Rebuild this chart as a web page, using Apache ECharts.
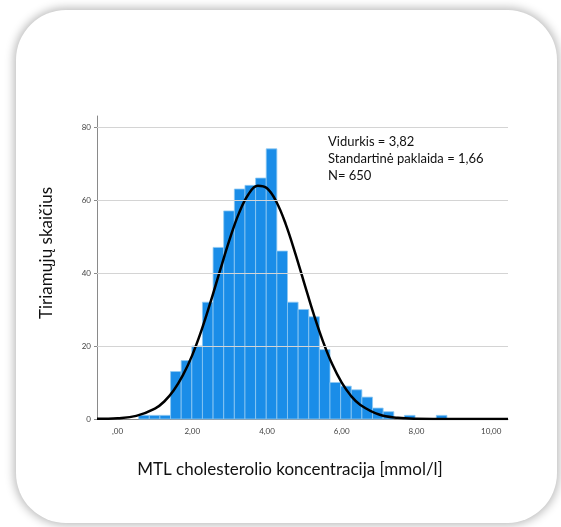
<!DOCTYPE html>
<html>
<head>
<meta charset="utf-8">
<script src="https://cdn.jsdelivr.net/npm/echarts@6/dist/echarts.min.js"></script>
<style>
  html, body { margin: 0; padding: 0; background: #ffffff; width: 561px; height: 527px; overflow: hidden; }
  #card { position: absolute; left: 16px; top: 10px; width: 541px; height: 513px; border-radius: 50px;
          background: #ffffff; box-shadow: 0 0 10px 2px rgba(0,0,0,0.28); }
  #chart { position: absolute; left: 0; top: 0; width: 561px; height: 527px; }
</style>
</head>
<body>
<div id="card"></div>
<div id="chart"></div>
<script>
// Histogram bins (lower edges, mmol/l) and counts
const binWidth = 0.2845;
const binLower = [0.565, 0.850, 1.134, 1.419, 1.703, 1.988, 2.272, 2.557, 2.841, 3.126,
                  3.410, 3.695, 3.979, 4.264, 4.548, 4.833, 5.117, 5.402, 5.686, 5.971,
                  6.255, 6.540, 6.824, 7.109, 7.393, 7.678, 7.962, 8.247, 8.531];
const binCounts = [1, 1, 1, 13, 16, 20, 32, 47, 57, 63,
                   64, 66, 74, 46, 32, 30, 28, 19, 10, 9,
                   8, 6, 3, 2, 0, 1, 0, 0, 1];
// Normal curve
const curveX = [-0.55, 0, 0.5, 1.0, 1.25, 1.5, 1.75, 2.0, 2.25, 2.5, 2.75, 3.0, 3.25, 3.5, 3.75,
                4.0, 4.25, 4.5, 4.75, 5.0, 5.25, 5.5, 5.75, 6.0, 6.25, 6.5, 7.0, 7.5, 8.0, 9.0, 10.45];
const curveY = [0.04, 0.21, 0.85, 2.85, 4.8, 7.8, 12.0, 17.5, 24.4, 32.4, 40.9, 49.2, 56.4, 61.5, 63.9,
                63.2, 59.5, 53.4, 45.6, 37.1, 28.7, 21.2, 14.9, 9.95, 6.3, 3.85, 1.22, 0.32, 0.07, 0, 0];
// Axis ticks
const yGridValues = [20, 40, 60, 80];
const xTickValues = [0, 2, 4, 6, 8, 10];
const statsLines = ['Vidurkis = 3,82', 'Standartinė paklaida = 1,66', 'N= 650'];
const xTitle = 'MTL cholesterolio koncentracija [mmol/l]';
const yTitle = 'Tiriamųjų skaičius';

const histData = binLower.map((x, i) => [x, binCounts[i]]);
const curveData = curveX.map((x, i) => [x, curveY[i]]);

function fmtX(v) {
  const r = Math.round(v * 100) / 100;
  if (!xTickValues.some(t => Math.abs(t - r) < 1e-6)) return '';
  const s = r.toFixed(2).replace('.', ',');
  return s.startsWith('0,') ? s.slice(1) : s;
}

const chart = echarts.init(document.getElementById('chart'), null, { renderer: 'canvas' });
const FONT = 'Lato, "Open Sans", sans-serif';
chart.setOption({
  backgroundColor: 'transparent',
  animation: false,
  grid: { left: 97, right: 53, top: 116, bottom: 108, containLabel: false },
  xAxis: {
    type: 'value', min: -0.55, max: 10.45, splitNumber: 5,
    axisLine: { show: true, onZero: false, lineStyle: { color: '#8a8a8a', width: 1 } },
    axisTick: { show: false },
    splitLine: { show: false },
    axisLabel: { formatter: fmtX, fontSize: 8, color: '#444', margin: 8, fontFamily: FONT,
                 showMinLabel: false, showMaxLabel: false }
  },
  yAxis: {
    type: 'value', min: 0, max: 83, interval: 20,
    axisLine: { show: true, onZero: false, lineStyle: { color: '#8a8a8a', width: 1 } },
    axisTick: { show: true, length: 3, lineStyle: { color: '#8a8a8a' } },
    splitLine: { show: false },
    axisLabel: { fontSize: 8, color: '#444', margin: 6, fontFamily: FONT, showMaxLabel: false,
                 formatter: v => (v % 20 === 0 ? String(v) : '') }
  },
  graphic: [
    {
      type: 'group', left: 328, top: 135,
      children: statsLines.map((t, i) => ({
        type: 'text', x: 0, y: i * 17,
        style: { text: t, fontSize: 13, fill: '#111', fontFamily: FONT }
      }))
    },
    {
      type: 'text', x: 290, y: 470,
      style: { text: xTitle, fontSize: 17, fill: '#111', fontFamily: FONT, align: 'center', verticalAlign: 'middle' }
    },
    {
      type: 'text', x: 47, y: 253, rotation: Math.PI / 2,
      style: { text: yTitle, fontSize: 17, fill: '#111', fontFamily: FONT, align: 'center', verticalAlign: 'middle' }
    }
  ],
  series: [
    {
      type: 'line', data: [], silent: true,
      markLine: {
        silent: true, symbol: 'none', label: { show: false },
        lineStyle: { color: '#d4d4d4', width: 1, type: 'solid' },
        data: yGridValues.map(v => ({ yAxis: v }))
      },
      z: 1
    },
    {
      type: 'custom', z: 2,
      data: histData,
      renderItem: function (params, api) {
        const x0 = api.value(0), c = api.value(1);
        if (!c) return null;
        const p0 = api.coord([x0, c]);
        const p1 = api.coord([x0 + binWidth, 0]);
        return {
          type: 'rect',
          shape: { x: p0[0], y: p0[1], width: p1[0] - p0[0], height: p1[1] - p0[1] },
          style: { fill: '#1a8de8', stroke: '#8fc9f3', lineWidth: 0.8 }
        };
      }
    },
    {
      type: 'line', z: 3, data: curveData, smooth: 0.4, symbol: 'none', clip: true,
      lineStyle: { color: '#000', width: 2.5 }
    }
  ]
});
</script>
</body>
</html>
